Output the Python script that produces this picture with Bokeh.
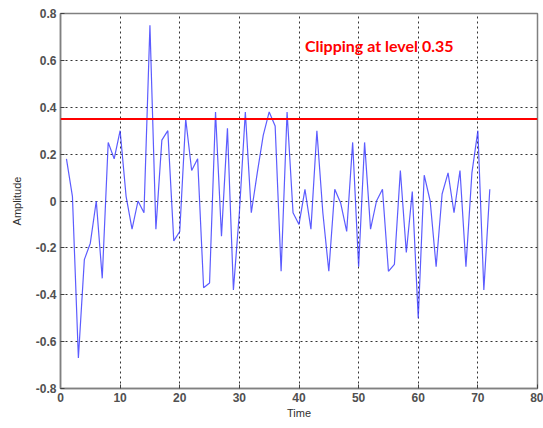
from bokeh.plotting import figure
from bokeh.models import FixedTicker, CustomJSTickFormatter, Range1d, Span, Label
from bokeh.embed import file_html
from bokeh.resources import INLINE

time = list(range(1, 73))
amplitude = [0.18, 0.02, -0.67, -0.25, -0.18, 0.0, -0.33, 0.25, 0.18, 0.30,
             0.02, -0.12, 0.0, -0.05, 0.75, -0.12, 0.26, 0.30, -0.17, -0.13,
             0.35, 0.13, 0.18, -0.37, -0.35, 0.38, -0.15, 0.31, -0.38, -0.05,
             0.38, -0.05, 0.12, 0.28, 0.38, 0.32, -0.30, 0.38, -0.05, -0.10,
             0.05, -0.12, 0.30, -0.05, -0.30, 0.05, -0.01, -0.13, 0.25, -0.28,
             0.25, -0.12, 0.0, 0.05, -0.30, -0.27, 0.13, -0.22, 0.04, -0.50,
             0.11, 0.0, -0.28, 0.03, 0.12, -0.05, 0.13, -0.28, 0.12, 0.30,
             -0.38, 0.05]
clip_level = 0.35
clip_label = "Clipping at level 0.35"
x_ticks = [0, 10, 20, 30, 40, 50, 60, 70, 80]
y_ticks = [-0.8, -0.6, -0.4, -0.2, 0, 0.2, 0.4, 0.6, 0.8]

p = figure(width=543, height=426, output_backend="svg", toolbar_location=None,
           x_range=Range1d(0, 80), y_range=Range1d(-0.8, 0.8),
           min_border_left=60, min_border_right=6, min_border_top=13, min_border_bottom=38)

p.line(time, amplitude, line_color="#3333ff", line_width=1.2, line_alpha=0.8)
p.add_layout(Span(location=clip_level, dimension="width", line_color="#ff0000", line_width=2))
p.add_layout(Label(x=41, y=0.665, text=clip_label, text_color="#ff0000",
                   text_font="Lato", text_font_style="bold", text_font_size="16px",
                   text_baseline="middle"))

fmt = CustomJSTickFormatter(code="return (Math.round(tick*10)/10).toString();")
for ax, ticks in ((p.xaxis, x_ticks), (p.yaxis, y_ticks)):
    ax.ticker = FixedTicker(ticks=ticks)
    ax.formatter = fmt
    ax.major_label_text_font = "Liberation Sans"
    ax.major_label_text_font_size = "12px"
    ax.major_label_text_font_style = "bold"
    ax.major_label_text_color = "#505050"
    ax.axis_line_color = "#808080"
    ax.axis_line_width = 1.5
    ax.major_tick_in = 4
    ax.major_tick_out = 0
    ax.major_tick_line_color = "#404040"
    ax.minor_tick_line_color = None
    ax.axis_label_text_font = "Liberation Sans"
    ax.axis_label_text_font_size = "11px"
    ax.axis_label_text_font_style = "normal"
    ax.axis_label_text_color = "#303030"
    ax.major_label_standoff = 4

p.xaxis.axis_label = "Time"
p.yaxis.axis_label = "Amplitude"
p.xaxis.axis_label_standoff = 2
p.yaxis.axis_label_standoff = 10

p.grid.grid_line_color = "#000000"
p.grid.grid_line_dash = "2 3"
p.grid.grid_line_alpha = 0.8
p.outline_line_color = "#808080"
p.outline_line_width = 1.5
p.outline_line_alpha = 1.0

open("out.html", "w").write(file_html(p, INLINE))
